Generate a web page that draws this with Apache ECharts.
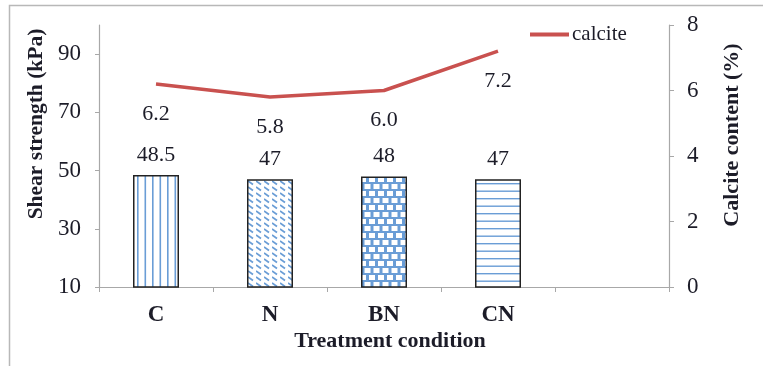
<!DOCTYPE html>
<html>
<head>
<meta charset="utf-8">
<script src="https://cdn.jsdelivr.net/npm/echarts@6/dist/echarts.min.js"></script>
<style>
  html, body { margin: 0; padding: 0; background: #fff; }
  #chart { width: 763px; height: 366px; }
</style>
</head>
<body>
<div id="chart"></div>
<script>
// Treatment conditions (the fifth slot is left empty on the axis)
const categories = ['C', 'N', 'BN', 'CN', ''];
// Shear strength (kPa), one bar per treatment
const shearStrength = [48.5, 47, 48, 47];
const shearLabels = ['48.5', '47', '48', '47'];
// Calcite content (%)
const calcite = [6.2, 5.8, 6.0, 7.2];
const calciteLabels = ['6.2', '5.8', '6.0', '7.2'];
// Left and right axis tick values
const shearTicks = [10, 30, 50, 70, 90];
const calciteTicks = [0, 2, 4, 6, 8];

const FONT = "'Liberation Serif', 'Times New Roman', serif";
const BLUE = '#6a9dd6';
const INK = '#1c1c28';

function tile(w, h, draw) {
  const c = document.createElement('canvas');
  c.width = w; c.height = h;
  const g = c.getContext('2d');
  g.fillStyle = '#fff';
  g.fillRect(0, 0, w, h);
  g.fillStyle = BLUE;
  g.strokeStyle = BLUE;
  draw(g);
  return { image: c, repeat: 'repeat' };
}

// Fill patterns for the four bars
const patterns = [
  // vertical stripes
  tile(15, 4, g => { g.fillRect(2, 0, 1.6, 4); g.fillRect(9.5, 0, 1.6, 4); }),
  // dashed downward diagonal
  tile(8, 6, g => {
    g.lineWidth = 1.7;
    g.beginPath(); g.moveTo(0, 1); g.lineTo(5, 4.5); g.stroke();
  }),
  // weave
  tile(9, 14, g => {
    g.fillRect(0, 0, 9, 2);
    g.fillRect(0, 7, 9, 2);
    g.fillRect(1.5, 2, 3, 5);
    g.fillRect(6, 9, 3, 5);
  }),
  // horizontal stripes
  tile(4, 15, g => { g.fillRect(0, 3, 4, 1.4); g.fillRect(0, 10.5, 4, 1.4); })
];

const barData = shearStrength.map((v, i) => ({
  value: v,
  itemStyle: { color: patterns[i] },
  label: { formatter: shearLabels[i] }
}));
const lineData = calcite.map((v, i) => ({
  value: v,
  label: { formatter: calciteLabels[i] }
}));

const axisGray = '#a8a8a8';
const chart = echarts.init(document.getElementById('chart'), null, { renderer: 'canvas' });
chart.setOption({
  animation: false,
  backgroundColor: '#fff',
  grid: { left: 99, right: 94, top: 25, bottom: 79, containLabel: false },
  legend: {
    left: 530, top: 24, padding: 0,
    itemWidth: 39, itemHeight: 4, itemGap: 4,
    icon: 'rect',
    data: [{ name: 'calcite', itemStyle: { color: '#c9514f' } }],
    textStyle: { fontFamily: FONT, fontSize: 21, color: INK, padding: [0, 0, 0, -2] }
  },
  xAxis: {
    type: 'category',
    data: categories,
    boundaryGap: true,
    axisLine: { lineStyle: { color: axisGray, width: 1.2 } },
    axisTick: { show: true, length: 5, lineStyle: { color: axisGray } },
    axisLabel: { fontFamily: FONT, fontSize: 23, fontWeight: 'bold', color: INK, margin: 17 }
  },
  yAxis: [
    {
      type: 'value', min: 10, max: 100, interval: 10,
      splitLine: { show: false },
      axisLine: { show: true, lineStyle: { color: axisGray, width: 1.2 } },
      axisTick: { show: true, length: 4, customValues: shearTicks, lineStyle: { color: axisGray } },
      axisLabel: { customValues: shearTicks, fontFamily: FONT, fontSize: 23, color: INK, margin: 18 }
    },
    {
      type: 'value', min: 0, max: 8, interval: 2,
      position: 'right',
      splitLine: { show: false },
      axisLine: { show: true, lineStyle: { color: axisGray, width: 1.2 } },
      axisTick: { show: true, length: 5, customValues: calciteTicks, lineStyle: { color: axisGray } },
      axisLabel: { customValues: calciteTicks, fontFamily: FONT, fontSize: 23, color: INK, margin: 18 }
    }
  ],
  series: [
    {
      name: 'shear',
      type: 'bar',
      yAxisIndex: 0,
      barWidth: 46,
      data: barData,
      itemStyle: { borderColor: '#222', borderWidth: 1.5 },
      label: { show: true, position: 'top', distance: 9, fontFamily: FONT, fontSize: 22, color: INK }
    },
    {
      name: 'calcite',
      type: 'line',
      yAxisIndex: 1,
      data: lineData,
      symbol: 'circle',
      symbolSize: 0.1,
      itemStyle: { color: '#c9514f' },
      lineStyle: { color: '#c9514f', width: 3.5 },
      label: { show: true, position: 'bottom', distance: 19, fontFamily: FONT, fontSize: 22, color: INK }
    }
  ],
  graphic: [
    {
      type: 'rect', z: -10, silent: true,
      shape: { x: 9.5, y: 5.5, width: 820, height: 420 },
      style: { fill: 'none', stroke: '#b8b8b8', lineWidth: 1.5 }
    },
    {
      type: 'text', x: 36, y: 124, rotation: Math.PI / 2,
      style: { text: 'Shear strength (kPa)', font: "bold 21.5px " + FONT, fill: INK, textAlign: 'center', textVerticalAlign: 'middle' }
    },
    {
      type: 'text', x: 732, y: 135, rotation: Math.PI / 2,
      style: { text: 'Calcite content (%)', font: "bold 22px " + FONT, fill: INK, textAlign: 'center', textVerticalAlign: 'middle' }
    },
    {
      type: 'text', x: 390, y: 341,
      style: { text: 'Treatment condition', font: "bold 22px " + FONT, fill: INK, textAlign: 'center', textVerticalAlign: 'middle' }
    }
  ]
});
</script>
</body>
</html>
